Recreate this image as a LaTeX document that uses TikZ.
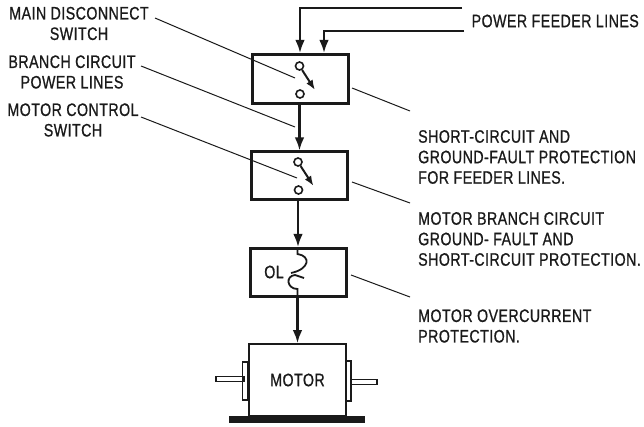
\documentclass[tikz,border=0pt]{standalone}
\usepackage{fontspec}
\setmainfont{Liberation Sans}[FakeStretch=0.79,LetterSpace=2.5,FakeBold=0.8]
\usetikzlibrary{arrows.meta,positioning,calc}
\definecolor{ink}{HTML}{1A1A1A}
\tikzset{
  x=1pt,y=-1pt,
  heavybox/.style={draw=ink,line width=3pt,minimum width=96pt,inner sep=0pt},
  thinbox/.style={draw=ink,line width=1.6pt,inner sep=0pt},
  flow/.style={draw=ink,line width=2.2pt,-{Latex[length=13pt,width=9.5pt]}},
  leader/.style={draw=ink,line width=1pt},
  lbl/.style={text=ink,font=\fontsize{18}{20.5}\selectfont,inner sep=0pt,align=center},
  lblL/.style={lbl,align=left,anchor=west},
  contact/.style={circle,draw=ink,line width=1.6pt,fill=white,minimum size=8pt,inner sep=0pt},
  blade/.style={draw=ink,line width=2pt,-{Latex[length=10pt,width=7.5pt]}}
}
\begin{document}
\begin{tikzpicture}
\useasboundingbox (0,0) rectangle (644,427);
% boxes
\node[heavybox,minimum height=49pt] (b1) at (300.5,79) {};
\node[heavybox,minimum height=48pt] (b2) at (299.5,176) {};
\node[heavybox,minimum height=48pt] (b3) at (298,272.5) {};
\node[thinbox,minimum width=97pt,minimum height=72pt,font=\fontsize{18}{20}\selectfont,text=ink] (m) at (297.5,380) {MOTOR};
% base, plates, shafts
\node[fill=ink,minimum width=136pt,minimum height=7pt,inner sep=0pt] (base) at (297,419.5) {};
\node[thinbox,minimum width=5pt,minimum height=38pt] (pl) at (245,381) {};
\node[thinbox,minimum width=5pt,minimum height=40pt] (pr) at (348.5,381) {};
\node[thinbox,minimum width=28pt,minimum height=5pt] (sl) at (230,379) {};
\node[thinbox,minimum width=26pt,minimum height=5pt] (sr) at (364,382) {};
% feeders
\coordinate (f1) at (462,8);
\coordinate (f2) at (464,31);
\coordinate (f1c) at (300,8);
\coordinate (f2c) at (324,31);
\coordinate (f1e) at (300,53);
\coordinate (f2e) at (324,53);
\draw[flow] (f1) -- (f1c) -- (f1e);
\draw[flow] (f2) -- (f2c) -- (f2e);
\draw[flow] (b2.north |- b1.south) -- (b2.north);
\draw[flow] (b3.north |- b2.south) -- (b3.north);
\draw[flow] (m.north |- b3.south) -- (m.north);
% switches
\node[contact] (s1a) at (299.5,66) {};
\node[contact] (s1b) at (300,94) {};
\coordinate (s1t) at (315,90);
\draw[blade] (s1a) -- (s1t);
\node[contact] (s2a) at (298,162) {};
\node[contact] (s2b) at (298.5,190) {};
\coordinate (s2t) at (313.5,186);
\draw[blade] (s2a) -- (s2t);
% overload symbol
\coordinate (o1) at (297.5,249);
\coordinate (o2) at (297.5,296);
\draw[ink,line width=1.8pt] (o1) -- ++(0,5) .. controls (311,256) and (310,269) .. (291,273);
\draw[ink,line width=1.8pt] (o2) -- ++(0,-7) .. controls (287,289) and (285,276) .. (295,275) -- (304,278);
% labels
\node[lbl] (t1) at (79,23.5) {MAIN DISCONNECT\\SWITCH};
\node[lbl] (t2) at (72,72) {BRANCH CIRCUIT\\POWER LINES};
\node[lbl] (t3) at (73,120) {MOTOR CONTROL\\SWITCH};
\node[lbl,anchor=east] (t4) at (639,21) {POWER FEEDER LINES};
\node[lblL] (t5) at (418,157) {SHORT-CIRCUIT AND\\GROUND-FAULT PROTECTION\\FOR FEEDER LINES.};
\node[lblL] (t6) at (418,239) {MOTOR BRANCH CIRCUIT\\GROUND- FAULT AND\\SHORT-CIRCUIT PROTECTION.};
\node[lblL] (t7) at (418,326) {MOTOR OVERCURRENT\\PROTECTION.};
\node[lbl,anchor=center] (t8) at (274,272) {OL};
% leaders
\coordinate (l1a) at (155,18); \coordinate (l1b) at (295,78);
\coordinate (l2a) at (141,66); \coordinate (l2b) at (295,127);
\coordinate (l3a) at (141,117); \coordinate (l3b) at (297,178);
\coordinate (l4a) at (410,111); \coordinate (l4b) at (352,88);
\coordinate (l5a) at (410,203); \coordinate (l5b) at (352,182);
\coordinate (l6a) at (410,297); \coordinate (l6b) at (351,275);
\draw[leader] (l1a) -- (l1b);
\draw[leader] (l2a) -- (l2b);
\draw[leader] (l3a) -- (l3b);
\draw[leader] (l4a) -- (l4b);
\draw[leader] (l5a) -- (l5b);
\draw[leader] (l6a) -- (l6b);
\end{tikzpicture}
\end{document}
